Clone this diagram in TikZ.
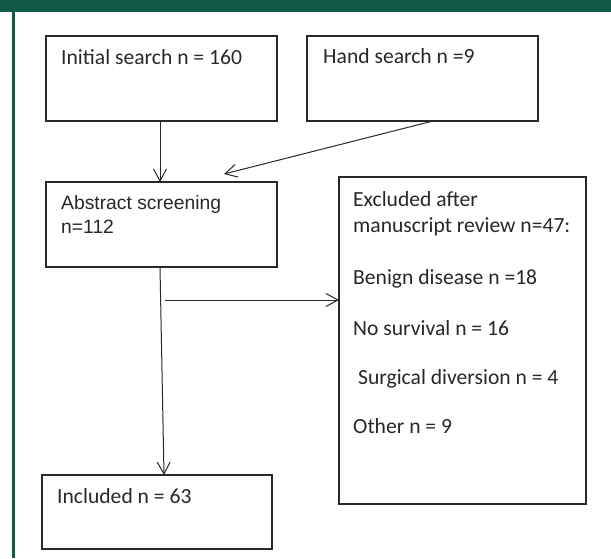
\documentclass[tikz,border=0pt]{standalone}
\usepackage{fontspec}
\setmainfont{Carlito}
\newfontfamily\arialfont{Liberation Sans}
\usetikzlibrary{arrows.meta,calc}
\definecolor{framegreen}{RGB}{18,90,72}
\definecolor{ink}{RGB}{40,40,40}
\begin{document}
\begin{tikzpicture}[x=1pt,y=-1pt,
  box/.style={draw=ink,line width=1.3pt,inner sep=0pt,outer sep=0pt,anchor=north west},
  txt/.style={inner sep=0pt,anchor=base west,text=ink,font=\fontsize{21.6}{24}\selectfont},
  atxt/.style={inner sep=0pt,anchor=base west,text=ink,font=\arialfont\fontsize{19.3}{24}\selectfont},
  conn/.style={draw=ink,line width=1pt,-{Straight Barb[length=12pt,width=13pt,line width=1pt]}}]
\useasboundingbox (0,0) rectangle (611,558);
\fill[white] (0,0) rectangle (611,558);
% frame
\fill[framegreen] (0,0) rectangle (611,11.5);
\fill[framegreen] (12,0) rectangle (14.5,558);
% boxes
\node[box,minimum width=231,minimum height=85] (ini) at (46,36) {};
\node[box,minimum width=231,minimum height=85] (hand) at (307,36) {};
\node[box,minimum width=231,minimum height=85] (abs) at (46,182) {};
\node[box,minimum width=247,minimum height=327] (exc) at (339,177) {};
\node[box,minimum width=230,minimum height=74] (inc) at (42,475) {};
% texts
\node[txt] (tini) at (61,64) {Initial search n = 160};
\node[txt] (thand) at (323,63) {Hand search n =9};
\node[atxt] (tabs1) at (61,209) {Abstract screening};
\node[atxt] (tabs2) at (61,233) {n=112};
\node[txt] (tinc) at (57,503) {Included n = 63};
\node[txt] (tex1) at (353,206) {Excluded after};
\node[txt] (tex2) at (353,232) {manuscript review n=47:};
\node[txt] (tex3) at (353,284) {Benign disease n =18};
\node[txt] (tex4) at (353,335) {No survival n = 16};
\node[txt] (tex5) at (353,384) {\ Surgical diversion n = 4};
\node[txt] (tex6) at (353,433) {Other n = 9};
% connectors
\coordinate (hstart) at (165,300);
\coordinate (handend) at (224,174);
\draw[conn] ([xshift=-1.5pt]ini.south) -- ([xshift=-1.5pt]abs.north);
\draw[conn] ([xshift=10.5pt]hand.south) -- (handend);
\draw[conn] ([xshift=-1.5pt]abs.south) -- ([xshift=7pt]inc.north);
\draw[conn] (hstart) -- (exc.west |- hstart);
\end{tikzpicture}
\end{document}
